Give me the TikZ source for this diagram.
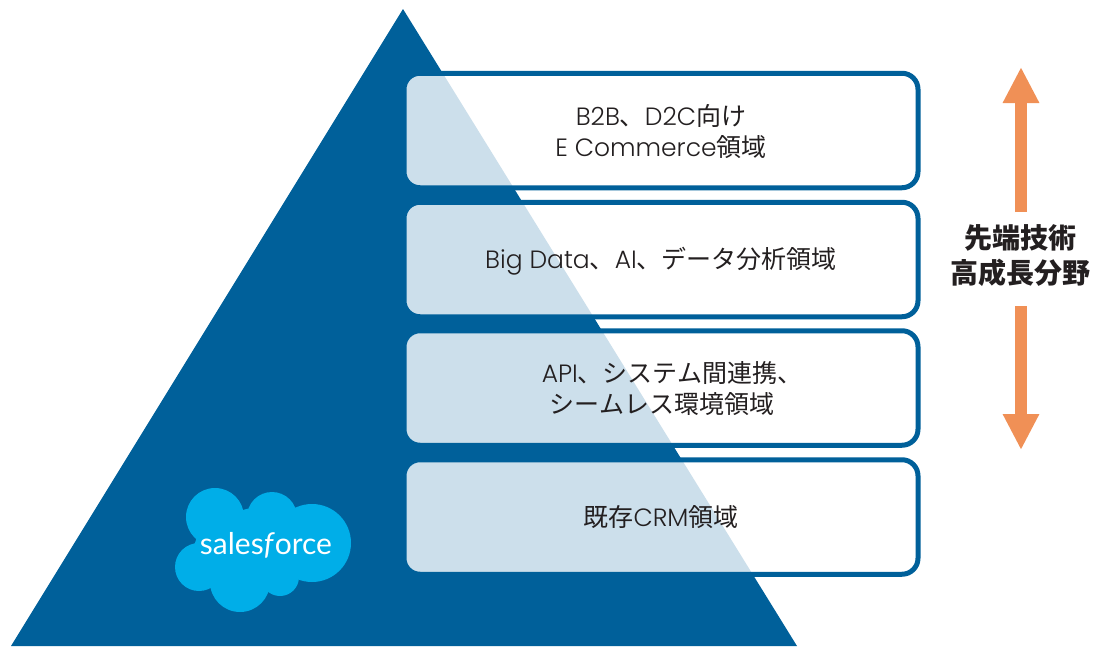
\documentclass[tikz,border=0pt]{standalone}
\usepackage{fontspec}
\setmainfont{Poppins Light}
\newfontfamily\cjk{Noto Sans CJK JP}
\newfontfamily\logo{Lato}
\usetikzlibrary{arrows.meta}
\definecolor{sfblue}{HTML}{00609A}
\definecolor{sflight}{HTML}{CCDFEB}
\definecolor{sfsky}{HTML}{00AEE8}
\definecolor{sforange}{HTML}{F09056}
\definecolor{sfink}{HTML}{231F20}
\tikzset{x=1pt,y=-1pt}
\tikzset{t/.style={align=center,text=sfink,font=\fontsize{25}{31}\selectfont}}
\tikzset{b/.style={rectangle,rounded corners=16pt,draw=sfblue,line width=5pt,fill=white,
  minimum width=514pt,minimum height=114.5pt,inner sep=0pt,
  path picture={\fill[sflight] (apex) -- (left) -- (right) -- cycle;}}}
\tikzset{g/.style={-{Triangle[width=34pt,length=36pt]},draw=sforange,line width=12pt}}
\begin{document}
\begin{tikzpicture}
      \useasboundingbox (0,0) rectangle (1093,646);
      \coordinate (apex) at (403,9);
      \coordinate (left) at (11,646);
      \coordinate (right) at (797,646);
      \fill[sfblue] (apex) -- (left) -- (right) -- cycle;
      \node[b] (E) at (661,130.5) {};
      \node[b] (D) at (661,259.5) {};
      \node[b] (A) at (661,388) {};
      \node[b] (C) at (661,517) {};
      \node[t] (e) at (661,132) {B2B{\cjk 、}D2C{\cjk 向け}\\E Commerce{\cjk 領域}};
      \node[t] (d) at (661,261.5) {Big Data{\cjk 、}AI{\cjk 、データ分析領域}};
      \node[t] (a) at (672,389) {API{\cjk 、システム間連携、}\\{\cjk シームレス環境領域}\hspace*{20pt}};
      \node[t] (c) at (661,517.5) {{\cjk 既存}CRM{\cjk 領域}};
      % logo
      \fill[sfsky] (215,517) circle (29) (272,517) circle (25) (312,543) circle (39)
        (199,567) circle (24) (240,582) circle (30) (280,577) circle (19) (255,545) circle (37)
        (222,550) circle (28);
      \node[text=white,font=\logo\fontsize{30}{30}\selectfont] (s) at (266,545) {sales\textit{f}orce};
      % right side
      \node[text=sfink,align=center,font=\cjk\bfseries\fontsize{28}{35}\selectfont] (h) at (1020.5,255.5) {先端技術\\高成長分野};
      \coordinate (u0) at (1021,212);
      \coordinate (u1) at (1021,67);
      \coordinate (d0) at (1021,306);
      \coordinate (d1) at (1021,450);
      \draw[g] (u0) -- (u1);
      \draw[g] (d0) -- (d1);
    \end{tikzpicture}
\end{document}
